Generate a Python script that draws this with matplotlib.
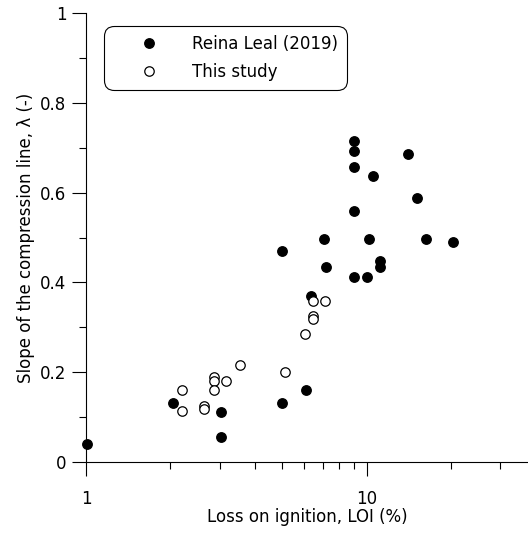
import matplotlib
matplotlib.use("Agg")
import matplotlib.pyplot as plt
from matplotlib.ticker import FixedLocator, NullFormatter, FixedFormatter

plt.rcParams['font.family'] = ['DejaVu Sans']

# Reina Leal (2019)
reina_loi = [1.01, 2.04, 3.04, 3.04, 5.01, 5.0, 6.09, 6.35, 7.04, 7.14,
             9.0, 9.0, 9.0, 9.0, 9.0, 10.0, 10.16, 10.56, 11.13, 11.13,
             14.1, 15.08, 16.27, 20.35]
reina_lam = [0.040, 0.132, 0.111, 0.055, 0.132, 0.469, 0.160, 0.370, 0.497, 0.434,
             0.714, 0.693, 0.658, 0.560, 0.413, 0.413, 0.497, 0.637, 0.448, 0.434,
             0.686, 0.588, 0.497, 0.490]

# This study
this_loi = [2.19, 2.19, 2.63, 2.63, 2.87, 2.87, 2.87, 3.15, 3.55, 5.12,
            6.01, 6.44, 6.44, 6.44, 7.12]
this_lam = [0.160, 0.114, 0.125, 0.118, 0.189, 0.180, 0.160, 0.180, 0.215, 0.200,
            0.284, 0.326, 0.318, 0.359, 0.359]

x_major = [1, 10]
x_major_labels = ["1", "10"]
x_minor = [2, 3, 4, 5, 6, 7, 8, 9, 20, 30]
y_major = [0, 0.2, 0.4, 0.6, 0.8, 1.0]
y_major_labels = ["0", "0.2", "0.4", "0.6", "0.8", "1"]
y_minor = [0.1, 0.3, 0.5, 0.7, 0.9]

FS = 12

fig = plt.figure(figsize=(5.28, 5.33), dpi=100)
ax = fig.add_axes([86/528, 71/533, 1 - 86/528, (462-13)/533])

ax.plot(reina_loi, reina_lam, 'o', color='black', markersize=6.8,
        linestyle='none', label='Reina Leal (2019)', clip_on=False, zorder=3)
ax.plot(this_loi, this_lam, 'o', markerfacecolor='white', markeredgecolor='black',
        markeredgewidth=0.9, markersize=6.8, linestyle='none', label='This study',
        clip_on=False, zorder=3)

ax.set_xscale('log')
ax.set_xlim(1, 37.6)
ax.set_ylim(0, 1)

ax.xaxis.set_major_locator(FixedLocator(x_major))
ax.xaxis.set_major_formatter(FixedFormatter(x_major_labels))
ax.xaxis.set_minor_locator(FixedLocator(x_minor))
ax.xaxis.set_minor_formatter(NullFormatter())
ax.yaxis.set_major_locator(FixedLocator(y_major))
ax.yaxis.set_major_formatter(FixedFormatter(y_major_labels))
ax.yaxis.set_minor_locator(FixedLocator(y_minor))

for s in ['top', 'right']:
    ax.spines[s].set_visible(False)
for s in ['left', 'bottom']:
    ax.spines[s].set_linewidth(0.8)

ax.tick_params(which='major', direction='out', length=10, width=0.8, labelsize=FS)
ax.tick_params(which='minor', direction='out', length=5, width=0.8)
ax.tick_params(axis='x', which='major', pad=10)
ax.tick_params(axis='y', which='major', pad=4)

ax.set_xlabel('Loss on ignition, LOI (%)', fontsize=FS, labelpad=0)
ax.set_ylabel('Slope of the compression line, λ (-)', fontsize=FS, labelpad=4)

leg = ax.legend(loc='upper left', bbox_to_anchor=(0.0407, 0.971),
                frameon=True, fancybox=True, edgecolor='black', fontsize=FS,
                handletextpad=0.42, borderpad=0.55, labelspacing=0.6,
                handlelength=4.3, borderaxespad=0)
leg.get_frame().set_linewidth(0.8)
leg.get_frame().set_alpha(1)
leg.get_frame().set_boxstyle('round', pad=0, rounding_size=0.6)

fig.savefig('out.png', dpi=100)
